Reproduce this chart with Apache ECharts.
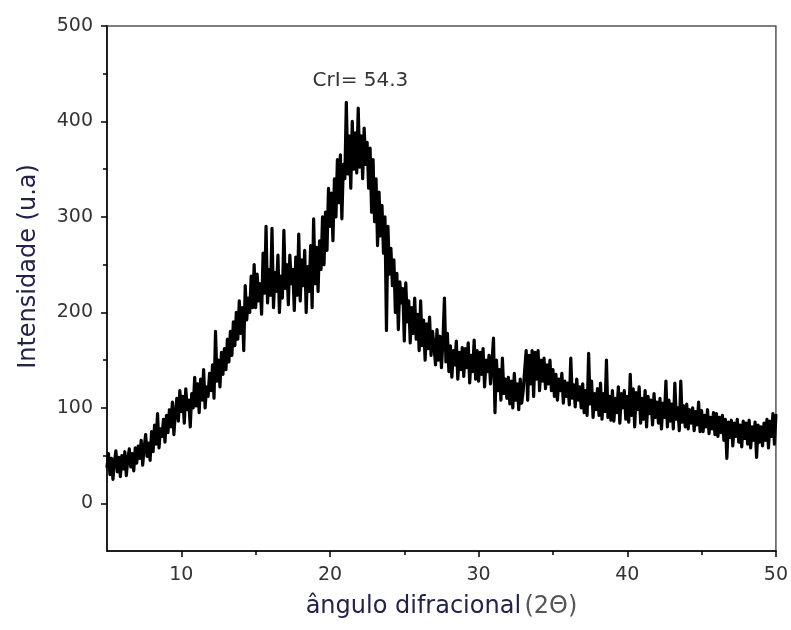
<!DOCTYPE html>
<html>
<head>
<meta charset="utf-8">
<script src="https://cdn.jsdelivr.net/npm/echarts@6/dist/echarts.min.js"></script>
<style>
  html, body { margin: 0; padding: 0; background: #fff; }
  #chart { width: 791px; height: 630px; }
</style>
</head>
<body>
<div id="chart"></div>
<script>
// scan grid: 2θ from 5 to 50 every 0.1
const xStart = 5
const xStep = 0.1

// intensidade, one row per degree
const rise = [
  38, 52, 30, 47, 25, 44, 55, 33, 48, 28,        // 5
  50, 36, 54, 29, 46, 57, 38, 52, 34, 58,        // 6
  42, 60, 47, 66, 40, 58, 72, 49, 63, 45,        // 7
  75, 54, 82, 62, 94, 58, 78, 70, 88, 64,        // 8
  92, 74, 98, 80, 106, 72, 95, 110, 86, 118,     // 9
  96, 112, 84, 120, 98, 108, 80, 115, 100, 132,  // 10
  102, 125, 95, 130, 108, 140, 100, 122, 112, 136, // 11
  118, 145, 110, 180, 128, 150, 122, 158, 135, 162, // 12
  140, 172, 148, 180, 155, 190, 165, 200, 172, 212, // 13
  178, 205, 160, 228, 192, 215, 200, 238, 205, 250  // 14
]
const shoulder = [
  205, 240, 212, 230, 198, 262, 220, 290, 210, 245, // 15
  218, 288, 205, 242, 222, 260, 200, 238, 215, 286, // 16
  225, 250, 208, 260, 230, 245, 202, 258, 218, 282, // 17
  212, 255, 228, 265, 200, 248, 222, 270, 205, 298  // 18
]
const peak = [
  230, 268, 222, 275, 245, 300, 250, 305, 265, 330, // 19
  290, 325, 275, 340, 300, 360, 315, 365, 298, 355, // 20
  340, 420, 345, 385, 330, 400, 350, 388, 346, 414, // 21
  352, 385, 340, 393, 355, 378, 330, 372, 305, 360, // 22
  295, 340, 270, 326, 280, 312, 262, 300, 181, 290, // 23
  240, 267, 228, 255, 200, 241, 182, 232, 210, 225  // 24
]
const tail = [
  170, 231, 190, 212, 168, 205, 178, 215, 172, 198, // 25
  160, 212, 165, 192, 150, 188, 162, 195, 155, 180, // 26
  165, 145, 182, 150, 175, 142, 170, 215, 148, 178, // 27
  138, 165, 132, 160, 145, 170, 130, 158, 140, 163, // 28
  133, 162, 142, 168, 126, 155, 138, 171, 130, 160, // 29
  128, 158, 135, 162, 122, 150, 138, 155, 125, 148, // 30
  173, 95, 150, 118, 140, 108, 152, 115, 130, 110,  // 31
  132, 104, 128, 100, 136, 108, 125, 98, 130, 105,  // 32
  118, 140, 160, 108, 155, 125, 160, 112, 158, 130, // 33
  160, 118, 150, 128, 152, 120, 145, 125, 150, 118, // 34
  140, 112, 135, 108, 130, 118, 136, 105, 128, 112, // 35
  126, 103, 152, 110, 124, 101, 130, 108, 122, 100, // 36
  125, 95, 118, 92, 157, 104, 128, 90, 115, 98,     // 37
  120, 92, 126, 88, 115, 96, 150, 90, 112, 87,      // 38
  118, 86, 110, 95, 122, 84, 115, 100, 118, 88,     // 39
  112, 85, 135, 92, 120, 80, 116, 98, 122, 84,      // 40
  110, 88, 118, 80, 112, 94, 108, 82, 115, 90,      // 41
  106, 84, 110, 78, 105, 90, 128, 80, 108, 86,      // 42
  104, 78, 126, 88, 100, 76, 128, 85, 102, 80,      // 43
  104, 78, 98, 84, 100, 76, 96, 82, 106, 75,        // 44
  97, 75, 92, 80, 98, 73, 90, 78, 95, 72,           // 45
  94, 70, 90, 74, 92, 66, 88, 47, 85, 69,           // 46
  87, 60, 84, 70, 88, 64, 82, 59, 86, 68,           // 47
  84, 62, 87, 58, 80, 66, 85, 48, 82, 64,           // 48
  80, 60, 84, 66, 88, 58, 86, 70, 94, 62,           // 49
  92                                                // 50
]

const xMajorTicks = [10, 20, 30, 40, 50]
const xMinorTicks = [15, 25, 35, 45]
const yMajorTicks = [0, 100, 200, 300, 400, 500]
const yMinorTicks = [50, 150, 250, 350, 450]
const crlNote = { text: 'CrI= 54.3', x: 22.05, y: 443 }

const intensity = rise.concat(shoulder, peak, tail)
const points = intensity.map((v, i) => [+(xStart + i * xStep).toFixed(1), v])

const font = 'DejaVu Sans'
const chart = echarts.init(document.getElementById('chart'))

const options = {
  animation: false,
  grid: {
    left: 107, right: 12, top: 26, bottom: 79,
    show: true, borderColor: '#555', borderWidth: 1.5
  },
  xAxis: [
    {
      type: 'value', min: 5, max: 50, interval: 5,
      splitLine: { show: false },
      axisLine: { show: true, onZero: false, lineStyle: { color: '#000', width: 1.5 } },
      axisTick: { show: true, customValues: xMajorTicks, length: 6, lineStyle: { color: '#000', width: 1.5 } },
      axisLabel: { customValues: xMajorTicks, margin: 15, fontFamily: font, fontSize: 19, color: '#333' },
      name: '{a|ângulo difracional} {b|(2Θ)}',
      nameLocation: 'middle',
      nameGap: 44,
      nameTextStyle: {
        rich: {
          a: { fontFamily: font, fontSize: 24, color: '#22224a' },
          b: { fontFamily: font, fontSize: 24, color: '#555' }
        }
      }
    },
    {
      type: 'value', min: 5, max: 50, interval: 5, position: 'bottom',
      splitLine: { show: false },
      axisLine: { show: false, onZero: false },
      axisTick: { show: true, customValues: xMinorTicks, length: 4, lineStyle: { color: '#000', width: 1.5 } },
      axisLabel: { show: false }
    }
  ],
  yAxis: [
    {
      type: 'value', min: -50, max: 500, interval: 50,
      splitLine: { show: false },
      axisLine: { show: true, onZero: false, lineStyle: { color: '#000', width: 1.5 } },
      axisTick: { show: true, customValues: yMajorTicks, length: 6, lineStyle: { color: '#000', width: 1.5 } },
      axisLabel: { customValues: yMajorTicks, margin: 14, fontFamily: font, fontSize: 19, color: '#333' },
      name: 'Intensidade (u.a)',
      nameLocation: 'middle',
      nameGap: 66,
      nameTextStyle: { fontFamily: font, fontSize: 24, color: '#22224a', padding: [0, 0, 0, 44] }
    },
    {
      type: 'value', min: -50, max: 500, interval: 50, position: 'left',
      splitLine: { show: false },
      axisLine: { show: false, onZero: false },
      axisTick: { show: true, customValues: yMinorTicks, length: 4, lineStyle: { color: '#000', width: 1.5 } },
      axisLabel: { show: false }
    }
  ],
  series: [
    {
      type: 'line',
      data: points,
      showSymbol: false,
      symbol: 'none',
      sampling: null,
      lineStyle: { color: '#000', width: 3.2, join: 'round', cap: 'round' },
      markPoint: {
        symbol: 'circle',
        symbolSize: 1,
        itemStyle: { color: 'rgba(0,0,0,0)' },
        label: {
          show: true, position: 'inside', formatter: crlNote.text,
          fontFamily: font, fontSize: 20, color: '#333'
        },
        data: [{ coord: [crlNote.x, crlNote.y] }]
      }
    }
  ]
}
chart.setOption(options)
</script>
</body>
</html>
